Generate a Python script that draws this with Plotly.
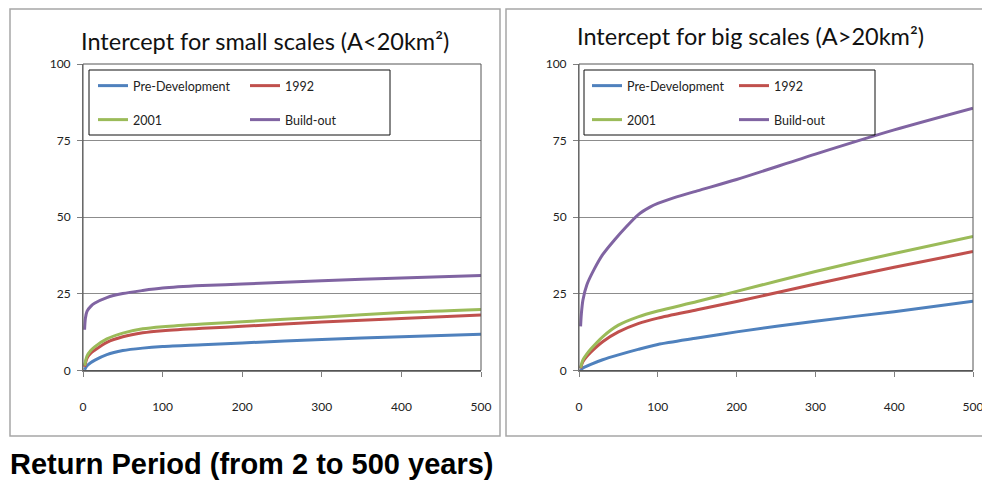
import plotly.graph_objects as go

W, H = 982, 486

# ---------------- data ----------------
series_names = ["Pre-Development", "1992", "2001", "Build-out"]
series_colors = ["#4F81BD", "#C0504D", "#9BBB59", "#8064A2"]

small_x = [2, 5, 10, 15, 30, 50, 75, 100, 150, 200, 300, 400, 500]
small_pre = [0.2, 1.5, 2.6, 3.4, 5.2, 6.5, 7.3, 7.8, 8.4, 9.0, 10.1, 11.0, 11.8]
small_1992 = [1.2, 4.0, 5.7, 6.7, 9.2, 11.0, 12.3, 13.0, 13.8, 14.4, 15.8, 17.0, 18.1]
small_2001 = [1.6, 4.7, 6.6, 7.8, 10.3, 12.2, 13.6, 14.3, 15.2, 15.9, 17.4, 18.9, 19.9]
small_build_x = [2, 3, 5, 10, 15, 30, 50, 75, 100, 150, 200, 300, 400, 500]
small_build = [13.3, 17.0, 19.3, 21.0, 22.0, 23.8, 25.1, 26.1, 26.9, 27.7, 28.2, 29.3, 30.2, 31.0]

big_x = [2, 5, 10, 15, 30, 50, 75, 100, 150, 200, 300, 400, 500]
big_pre = [0.1, 0.8, 1.4, 2.0, 3.5, 5.1, 6.9, 8.5, 10.6, 12.6, 16.1, 19.2, 22.6]
big_1992 = [0.7, 2.9, 4.6, 6.0, 9.4, 12.6, 15.3, 17.1, 19.8, 22.5, 28.2, 33.7, 38.8]
big_2001 = [0.9, 3.5, 5.4, 7.0, 11.0, 14.8, 17.5, 19.4, 22.5, 25.8, 32.3, 38.2, 43.7]
big_build_x = [2, 3, 5, 10, 20, 30, 45, 60, 75, 90, 100, 120, 150, 200, 300, 400, 500]
big_build = [14.4, 18.5, 23.0, 28.0, 33.4, 37.8, 42.6, 46.9, 50.8, 53.3, 54.5, 56.3, 58.6,
             62.3, 70.6, 78.5, 85.6]

x_ticks = [0, 100, 200, 300, 400, 500]
y_ticks = [0, 25, 50, 75, 100]

title_small = "Intercept for small scales (A<20km²)"
title_big = "Intercept for big scales (A>20km²)"
bottom_label = "<b>Return Period (from 2 to 500 years)</b>"

NARROW = "Lato, Open Sans, sans-serif"


def px(x):
    return x / W


def py(y):
    return 1 - y / H


fig = go.Figure()

small_sets = [(small_x, small_pre), (small_x, small_1992), (small_x, small_2001),
              (small_build_x, small_build)]
big_sets = [(big_x, big_pre), (big_x, big_1992), (big_x, big_2001), (big_build_x, big_build)]
left_legends = ["legend", "legend", "legend2", "legend2"]
right_legends = ["legend3", "legend3", "legend4", "legend4"]

for name, col, (xs, ys), lg in zip(series_names, series_colors, small_sets, left_legends):
    fig.add_trace(go.Scatter(x=xs, y=ys, mode="lines", name=name,
                             line=dict(color=col, width=3, shape="spline", smoothing=0.8),
                             xaxis="x", yaxis="y", legend=lg))
for name, col, (xs, ys), lg in zip(series_names, series_colors, big_sets, right_legends):
    fig.add_trace(go.Scatter(x=xs, y=ys, mode="lines", name=name,
                             line=dict(color=col, width=3, shape="spline", smoothing=0.8),
                             xaxis="x2", yaxis="y2", legend=lg))

axis_common = dict(
    range=[0, 500], tickvals=x_ticks, showgrid=False, zeroline=False, automargin=False,
    showline=True, linecolor="#7f7f7f", linewidth=1, mirror=False,
    ticks="outside", ticklen=5, tickcolor="#7f7f7f",
    tickfont=dict(family=NARROW, size=12, color="#222"),
    ticklabelstandoff=20, ticklabeloverflow="allow",
)
yaxis_common = dict(
    range=[0, 100], tickvals=y_ticks, showgrid=True, gridcolor="#8c8c8c", gridwidth=1,
    zeroline=False, showline=True, linecolor="#7f7f7f", linewidth=1, automargin=False,
    ticks="outside", ticklen=5, tickcolor="#7f7f7f",
    tickfont=dict(family=NARROW, size=12, color="#222"),
    ticklabelstandoff=4,
)

y_dom = [py(370.5), py(64)]

legend_common = dict(orientation="h", xanchor="left", yanchor="middle",
                     entrywidth=107, entrywidthmode="pixels",
                     bgcolor="rgba(0,0,0,0)", borderwidth=0,
                     font=dict(family=NARROW, size=12.5, color="#222"),
                     itemclick=False, itemdoubleclick=False, tracegroupgap=0)

fig.update_layout(
    width=W, height=H, margin=dict(l=0, r=0, t=0, b=0, autoexpand=False),
    paper_bgcolor="white", plot_bgcolor="white",
    showlegend=True,
    xaxis=dict(domain=[px(83), px(481)], anchor="y", **axis_common),
    yaxis=dict(domain=y_dom, anchor="x", **yaxis_common),
    xaxis2=dict(domain=[px(579), px(973)], anchor="y2", **axis_common),
    yaxis2=dict(domain=y_dom, anchor="x2", **yaxis_common),
    legend=dict(x=px(93), y=py(86), **legend_common),
    legend2=dict(x=px(93), y=py(120), **legend_common),
    legend3=dict(x=px(587), y=py(86), **{**legend_common, "entrywidth": 102}),
    legend4=dict(x=px(587), y=py(120), **{**legend_common, "entrywidth": 102}),
)

shape_list = [
    # outer chart borders
    dict(type="rect", xref="paper", yref="paper", x0=px(10), x1=px(500), y0=py(436), y1=py(9),
         line=dict(color="#a6a6a6", width=1.5)),
    dict(type="rect", xref="paper", yref="paper", x0=px(506), x1=px(990), y0=py(436), y1=py(9),
         line=dict(color="#a6a6a6", width=1.5)),
    # plot-area frames
    dict(type="rect", xref="paper", yref="paper", x0=px(83), x1=px(481), y0=y_dom[0], y1=y_dom[1],
         line=dict(color="#555555", width=1)),
    dict(type="rect", xref="paper", yref="paper", x0=px(579), x1=px(973), y0=y_dom[0], y1=y_dom[1],
         line=dict(color="#555555", width=1)),
    # legend boxes
    dict(type="rect", xref="paper", yref="paper", x0=px(89), x1=px(390), y0=py(135), y1=py(70),
         line=dict(color="#111111", width=1), fillcolor="rgba(255,255,255,0)"),
    dict(type="rect", xref="paper", yref="paper", x0=px(584), x1=px(875), y0=py(135), y1=py(70),
         line=dict(color="#111111", width=1), fillcolor="rgba(255,255,255,0)"),
]
fig.update_layout(shapes=shape_list)

fig.add_annotation(text=title_small, xref="paper", yref="paper", x=px(265), y=py(41),
                   xanchor="center", yanchor="middle", showarrow=False,
                   font=dict(family=NARROW, size=23.5, color="#111"))
fig.add_annotation(text=title_big, xref="paper", yref="paper", x=px(750), y=py(36),
                   xanchor="center", yanchor="middle", showarrow=False,
                   font=dict(family=NARROW, size=23.5, color="#111"))
fig.add_annotation(text=bottom_label, xref="paper", yref="paper", x=px(8), y=py(464),
                   xanchor="left", yanchor="middle", showarrow=False,
                   font=dict(family="Liberation Sans, Arial, sans-serif", size=29, color="#000"))

fig.write_html("out.html", config={"displayModeBar": False},
               post_script="document.body.style.margin='0';document.body.style.overflow='hidden';")
